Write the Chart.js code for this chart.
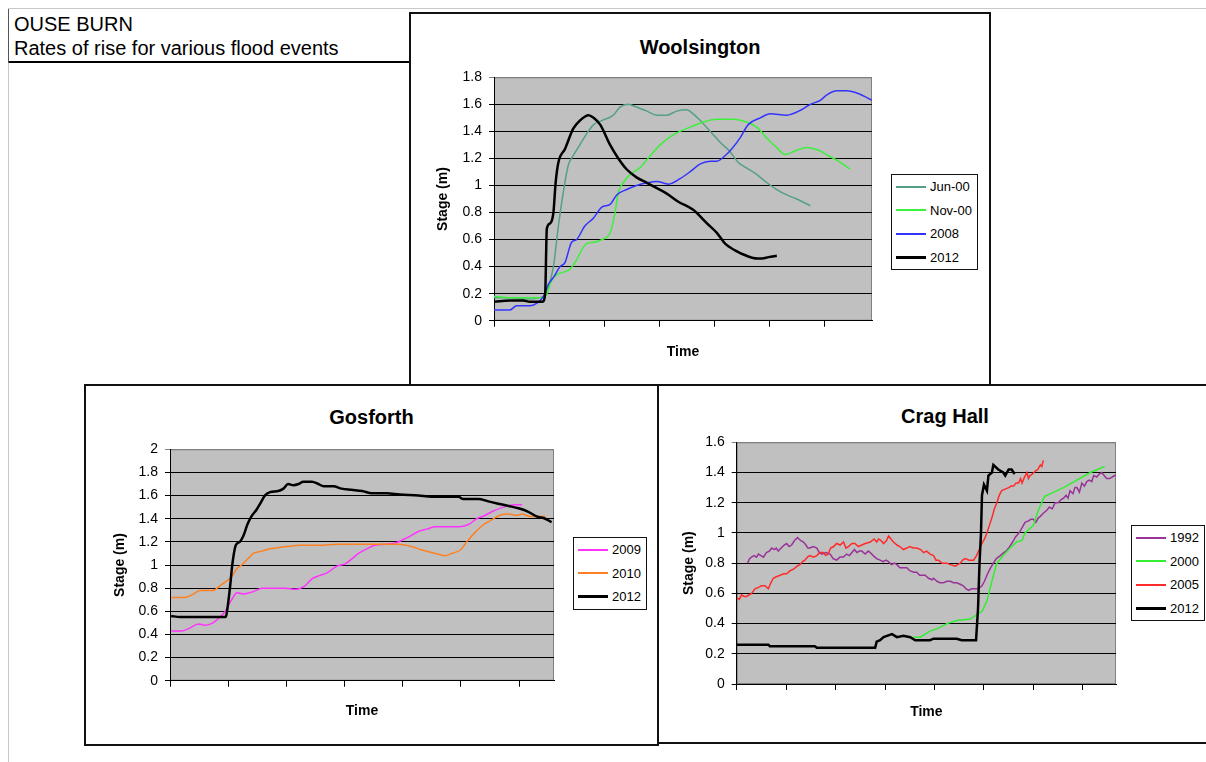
<!DOCTYPE html>
<html>
<head>
<meta charset="utf-8">
<title>Ouse Burn - rates of rise</title>
<script src="https://cdn.jsdelivr.net/npm/chart.js@4.4.1/dist/chart.umd.min.js"></script>
<style>
  html, body { margin: 0; padding: 0; background: #fff; overflow: hidden; }
  body { width: 1206px; height: 762px; position: relative; font-family: "Liberation Sans", Arial, sans-serif; color: #000; }
  .line { position: absolute; }
  .box { position: absolute; box-sizing: border-box; border: 2px solid #111; background: #fff; }
  .chart-title { position: absolute; text-align: center; font-weight: bold; font-size: 20px; line-height: 20px; }
  .legend { position: absolute; border: 1px solid #111; background: #fff; padding: 0 5px 0 4px; font-size: 13px; }
  .lg-row { display: flex; align-items: center; height: 23.5px; white-space: nowrap; }
  .lg-line { display: inline-block; width: 30px; margin-right: 4px; }
  canvas { position: absolute; }
  #heading { position: absolute; left: 14px; top: 12px; font-size: 20px; line-height: 24px; }
</style>
</head>
<body>
<div class="line" style="left:8px;top:8px;width:1198px;height:1px;background:#c8c8c8"></div>
<div class="line" style="left:8px;top:8px;width:1px;height:754px;background:#c8c8c8"></div>
<div class="line" style="left:8px;top:9px;width:1px;height:54px;background:#555"></div>
<div id="heading">OUSE BURN<br>Rates of rise for various flood events</div>
<div class="line" style="left:9px;top:61px;width:401px;height:2px;background:#000"></div>

<div class="box" style="left:409px;top:12px;width:582px;height:374px"></div>
<div class="box" style="left:84px;top:384px;width:575px;height:362px"></div>
<div class="box" style="left:657px;top:384px;width:580px;height:360px"></div>

<div class="chart-title" style="left:410px;top:37px;width:580px">Woolsington</div>
<div class="chart-title" style="left:85px;top:407px;width:573px">Gosforth</div>
<div class="chart-title" style="left:658px;top:406px;width:574px">Crag Hall</div>

<canvas id="woolsington" width="580" height="372" style="left:410px;top:13px"></canvas>
<canvas id="gosforth" width="573" height="360" style="left:85px;top:385px"></canvas>
<canvas id="cragHall" width="574" height="358" style="left:658px;top:385px"></canvas>

<div class="legend" id="woolsingtonLegend" style="left:891px;top:174px"></div>
<div class="legend" id="gosforthLegend" style="left:573px;top:537px"></div>
<div class="legend" id="cragHallLegend" style="left:1131px;top:525px"></div>

<script>
// time is in x-axis tick intervals, stage in metres

// Woolsington
const woolJun00 = [[0,0.17],[0.29,0.17],[0.59,0.16],[0.9,0.18],[0.99,0.25],[1.08,0.4],[1.17,0.7],[1.26,0.95],[1.35,1.15],[1.44,1.22],[1.56,1.3],[1.68,1.38],[1.81,1.45],[1.96,1.48],[2.17,1.52],[2.29,1.58],[2.44,1.6],[2.59,1.58],[2.78,1.55],[2.96,1.52],[3.14,1.52],[3.32,1.55],[3.5,1.56],[3.62,1.53],[3.75,1.48],[3.93,1.4],[4.11,1.32],[4.29,1.25],[4.44,1.17],[4.59,1.13],[4.78,1.08],[4.96,1.02],[5.14,0.97],[5.32,0.93],[5.5,0.9],[5.75,0.85]];
const woolNov00 = [[0,0.18],[0.29,0.17],[0.9,0.17],[0.96,0.2],[1.05,0.3],[1.14,0.34],[1.38,0.38],[1.5,0.45],[1.59,0.52],[1.68,0.57],[1.81,0.58],[1.96,0.6],[2.11,0.65],[2.2,0.8],[2.26,0.95],[2.35,1.02],[2.47,1.08],[2.65,1.13],[2.84,1.22],[3.02,1.3],[3.2,1.36],[3.38,1.4],[3.62,1.44],[3.81,1.47],[4.05,1.49],[4.35,1.49],[4.59,1.47],[4.78,1.43],[4.96,1.35],[5.14,1.28],[5.29,1.23],[5.5,1.26],[5.68,1.28],[5.9,1.26],[6.08,1.22],[6.26,1.18],[6.47,1.12]];
const wool2008 = [[0,0.08],[0.29,0.08],[0.41,0.11],[0.65,0.11],[0.78,0.13],[0.9,0.18],[0.99,0.27],[1.08,0.32],[1.2,0.4],[1.29,0.43],[1.41,0.58],[1.5,0.6],[1.65,0.7],[1.81,0.76],[1.96,0.84],[2.11,0.86],[2.23,0.93],[2.41,0.97],[2.59,1.0],[2.78,1.02],[2.96,1.03],[3.17,1.01],[3.38,1.05],[3.56,1.1],[3.75,1.16],[3.93,1.18],[4.05,1.18],[4.2,1.22],[4.32,1.27],[4.47,1.35],[4.62,1.45],[4.84,1.5],[5.02,1.53],[5.32,1.52],[5.59,1.56],[5.75,1.6],[5.93,1.63],[6.05,1.67],[6.23,1.7],[6.41,1.7],[6.62,1.68],[6.87,1.63]];
const wool2012 = [[0,0.14],[0.29,0.15],[0.53,0.15],[0.65,0.14],[0.88,0.14],[0.93,0.2],[0.96,0.68],[1.02,0.72],[1.08,0.8],[1.12,1.02],[1.17,1.17],[1.29,1.27],[1.44,1.42],[1.56,1.48],[1.72,1.52],[1.81,1.5],[1.93,1.45],[2.11,1.3],[2.26,1.2],[2.41,1.12],[2.59,1.06],[2.78,1.02],[2.96,0.98],[3.14,0.94],[3.35,0.88],[3.62,0.82],[3.87,0.72],[4.05,0.65],[4.2,0.57],[4.38,0.52],[4.59,0.48],[4.78,0.46],[4.87,0.46],[4.99,0.47],[5.14,0.48]];

// Gosforth
const gos2009 = [[0.02,0.43],[0.2,0.43],[0.32,0.45],[0.49,0.49],[0.6,0.48],[0.74,0.5],[0.86,0.55],[0.95,0.6],[1.06,0.7],[1.15,0.76],[1.26,0.75],[1.43,0.77],[1.58,0.8],[1.98,0.8],[2.15,0.79],[2.32,0.82],[2.44,0.88],[2.58,0.91],[2.69,0.93],[2.87,0.99],[3.01,1.01],[3.12,1.05],[3.24,1.1],[3.38,1.14],[3.52,1.17],[3.7,1.18],[3.87,1.19],[4.01,1.22],[4.13,1.25],[4.27,1.29],[4.41,1.31],[4.56,1.33],[4.96,1.33],[5.13,1.35],[5.27,1.4],[5.42,1.43],[5.53,1.46],[5.73,1.5],[5.93,1.52],[6.05,1.52]];
const gos2010 = [[0.02,0.72],[0.26,0.72],[0.37,0.74],[0.52,0.78],[0.74,0.78],[0.86,0.82],[0.97,0.86],[1.06,0.9],[1.15,0.97],[1.23,1.0],[1.35,1.06],[1.43,1.1],[1.58,1.12],[1.72,1.14],[1.86,1.15],[2.01,1.16],[2.23,1.17],[2.55,1.17],[2.89,1.18],[3.58,1.18],[3.93,1.18],[4.15,1.16],[4.33,1.13],[4.56,1.1],[4.73,1.08],[4.84,1.1],[4.99,1.13],[5.1,1.2],[5.24,1.28],[5.39,1.35],[5.53,1.39],[5.67,1.43],[5.82,1.44],[5.96,1.43],[6.05,1.44],[6.19,1.42],[6.45,1.42]];
const gos2012 = [[0.02,0.56],[0.17,0.55],[0.95,0.55],[0.97,0.57],[1.03,0.8],[1.07,1.0],[1.13,1.17],[1.2,1.2],[1.26,1.25],[1.33,1.35],[1.4,1.42],[1.49,1.48],[1.56,1.54],[1.63,1.6],[1.72,1.63],[1.86,1.64],[1.95,1.66],[2.03,1.7],[2.12,1.69],[2.21,1.7],[2.29,1.72],[2.44,1.72],[2.55,1.7],[2.64,1.68],[2.81,1.68],[2.95,1.66],[3.12,1.65],[3.3,1.64],[3.47,1.62],[3.72,1.62],[3.95,1.61],[4.27,1.6],[4.5,1.59],[4.96,1.59],[5.04,1.57],[5.3,1.57],[5.47,1.55],[5.64,1.53],[5.82,1.51],[5.99,1.49],[6.16,1.46],[6.3,1.42],[6.45,1.4],[6.56,1.37]];

// Crag Hall
const crag1992 = [[0.22,0.8],[0.26,0.83],[0.3,0.84],[0.35,0.85],[0.4,0.84],[0.44,0.86],[0.49,0.85],[0.54,0.84],[0.6,0.87],[0.66,0.88],[0.71,0.9],[0.76,0.89],[0.8,0.9],[0.84,0.88],[0.9,0.9],[0.96,0.92],[1.01,0.93],[1.06,0.91],[1.11,0.92],[1.17,0.95],[1.23,0.97],[1.29,0.95],[1.35,0.94],[1.4,0.92],[1.44,0.9],[1.48,0.9],[1.55,0.91],[1.62,0.9],[1.67,0.87],[1.72,0.86],[1.8,0.87],[1.89,0.86],[1.95,0.83],[2.02,0.82],[2.09,0.84],[2.16,0.84],[2.22,0.86],[2.28,0.85],[2.33,0.87],[2.38,0.89],[2.43,0.87],[2.48,0.88],[2.53,0.88],[2.6,0.86],[2.66,0.88],[2.7,0.87],[2.76,0.85],[2.83,0.83],[2.9,0.82],[2.96,0.81],[3.02,0.82],[3.07,0.81],[3.13,0.79],[3.19,0.8],[3.24,0.79],[3.3,0.77],[3.38,0.77],[3.44,0.77],[3.5,0.75],[3.58,0.74],[3.64,0.74],[3.7,0.72],[3.78,0.72],[3.81,0.72],[3.88,0.7],[3.95,0.69],[3.98,0.7],[4.05,0.68],[4.11,0.67],[4.18,0.67],[4.25,0.68],[4.32,0.68],[4.38,0.67],[4.45,0.67],[4.52,0.66],[4.58,0.65],[4.64,0.63],[4.69,0.62],[4.75,0.63],[4.82,0.63],[4.86,0.63],[4.92,0.64],[4.96,0.65],[5.01,0.68],[5.06,0.72],[5.12,0.76],[5.19,0.8],[5.25,0.83],[5.33,0.85],[5.4,0.87],[5.45,0.88],[5.5,0.9],[5.56,0.93],[5.6,0.95],[5.63,0.97],[5.68,0.99],[5.73,1.01],[5.78,1.04],[5.83,1.07],[5.9,1.08],[5.95,1.09],[6.0,1.09],[6.05,1.07],[6.1,1.1],[6.14,1.11],[6.2,1.13],[6.27,1.15],[6.32,1.17],[6.38,1.16],[6.44,1.2],[6.5,1.2],[6.56,1.22],[6.61,1.23],[6.66,1.25],[6.7,1.23],[6.74,1.28],[6.8,1.26],[6.84,1.3],[6.88,1.3],[6.93,1.27],[6.98,1.33],[7.03,1.31],[7.08,1.34],[7.13,1.35],[7.18,1.34],[7.22,1.38],[7.28,1.37],[7.33,1.39],[7.38,1.4],[7.43,1.38],[7.48,1.36],[7.54,1.36],[7.59,1.37],[7.64,1.38],[7.67,1.38]];
const crag2000 = [[3.57,0.31],[3.71,0.31],[3.91,0.35],[4.08,0.37],[4.25,0.4],[4.45,0.42],[4.72,0.43],[4.86,0.46],[4.96,0.48],[5.06,0.55],[5.16,0.68],[5.26,0.8],[5.39,0.85],[5.53,0.9],[5.66,0.94],[5.77,0.95],[5.83,1.0],[6.0,1.05],[6.1,1.15],[6.22,1.24],[6.61,1.3],[7.15,1.4],[7.44,1.44]];
const crag2005 = [[0,0.57],[0.05,0.56],[0.1,0.59],[0.15,0.58],[0.2,0.58],[0.3,0.6],[0.37,0.63],[0.44,0.64],[0.5,0.65],[0.57,0.65],[0.64,0.63],[0.69,0.67],[0.74,0.7],[0.8,0.71],[0.88,0.72],[0.95,0.73],[1.01,0.73],[1.08,0.75],[1.15,0.76],[1.22,0.78],[1.28,0.79],[1.33,0.81],[1.38,0.82],[1.43,0.84],[1.48,0.85],[1.55,0.84],[1.62,0.85],[1.68,0.87],[1.75,0.87],[1.8,0.85],[1.85,0.86],[1.9,0.9],[1.96,0.91],[2.02,0.93],[2.09,0.92],[2.16,0.94],[2.21,0.9],[2.26,0.91],[2.33,0.93],[2.39,0.93],[2.46,0.91],[2.53,0.92],[2.6,0.93],[2.7,0.94],[2.78,0.96],[2.83,0.94],[2.87,0.96],[2.92,0.95],[2.97,0.93],[3.03,0.95],[3.07,0.98],[3.12,0.96],[3.17,0.94],[3.24,0.92],[3.3,0.91],[3.37,0.89],[3.44,0.9],[3.5,0.91],[3.57,0.9],[3.64,0.9],[3.72,0.89],[3.78,0.87],[3.84,0.88],[3.91,0.86],[3.98,0.85],[4.03,0.82],[4.08,0.82],[4.15,0.8],[4.25,0.8],[4.32,0.79],[4.42,0.78],[4.47,0.79],[4.52,0.8],[4.57,0.82],[4.62,0.83],[4.7,0.82],[4.79,0.82],[4.85,0.85],[4.89,0.88],[4.93,0.91],[4.96,0.93],[5.01,0.96],[5.06,1.0],[5.11,1.05],[5.16,1.1],[5.21,1.16],[5.26,1.2],[5.31,1.25],[5.36,1.28],[5.43,1.29],[5.5,1.3],[5.55,1.31],[5.6,1.31],[5.65,1.33],[5.7,1.33],[5.74,1.36],[5.77,1.33],[5.82,1.37],[5.87,1.4],[5.9,1.36],[5.93,1.38],[5.98,1.39],[6.04,1.41],[6.09,1.42],[6.14,1.45],[6.17,1.44],[6.2,1.48]];
const crag2012 = [[0,0.26],[0.64,0.26],[0.67,0.25],[1.58,0.25],[1.62,0.24],[2.8,0.24],[2.83,0.28],[2.9,0.29],[2.97,0.31],[3.14,0.33],[3.24,0.31],[3.37,0.32],[3.51,0.31],[3.61,0.29],[3.91,0.29],[3.98,0.3],[4.45,0.3],[4.55,0.29],[4.84,0.29],[4.88,0.5],[4.91,0.8],[4.94,1.0],[4.96,1.25],[5.0,1.32],[5.06,1.28],[5.09,1.38],[5.16,1.4],[5.19,1.45],[5.29,1.42],[5.39,1.4],[5.43,1.38],[5.5,1.42],[5.56,1.42],[5.62,1.39]];

Chart.defaults.font.family = '"Liberation Sans", Arial, sans-serif';
Chart.defaults.color = '#000';

// grey plot area like the old spreadsheet charts
const plotBackground = {
  id: 'plotBackground',
  beforeDraw(chart) {
    const {ctx, chartArea: a} = chart;
    ctx.save();
    ctx.fillStyle = '#c0c0c0';
    ctx.fillRect(a.left, a.top, a.width, a.height);
    ctx.strokeStyle = '#808080';
    ctx.lineWidth = 1;
    ctx.strokeRect(a.left + 0.5, a.top + 0.5, a.width - 1, a.height - 1);
    ctx.restore();
  }
};

function htmlLegend(chart, el) {
  el.innerHTML = '';
  chart.data.datasets.forEach(ds => {
    const row = document.createElement('div');
    row.className = 'lg-row';
    const swatch = document.createElement('span');
    swatch.className = 'lg-line';
    swatch.style.background = ds.borderColor;
    swatch.style.height = Math.round(ds.borderWidth) + 'px';
    row.appendChild(swatch);
    row.appendChild(document.createTextNode(ds.label));
    el.appendChild(row);
  });
}

function stageChart(id, cfg) {
  const n = cfg.series.length;
  const chart = new Chart(document.getElementById(id), {
    type: 'line',
    data: {
      datasets: cfg.series.map((s, i) => ({
        label: s.label,
        data: s.data,
        borderColor: s.color,
        borderWidth: s.width || 1.5,
        pointRadius: 0,
        fill: false,
        tension: 0,
        cubicInterpolationMode: cfg.smooth ? 'monotone' : 'default',
        order: n - 1 - i
      }))
    },
    options: {
      responsive: false,
      animation: false,
      events: [],
      layout: { padding: cfg.padding },
      scales: {
        x: {
          type: 'linear',
          min: 0,
          max: cfg.xMax,
          ticks: { display: false, stepSize: 1, includeBounds: false },
          grid: { drawOnChartArea: false, drawTicks: true, tickLength: 6, color: '#000' },
          border: { color: '#000', width: 1 },
          title: { display: true, text: 'Time', font: { size: 14, weight: 'bold' }, padding: 0 },
          afterFit: s => { s.height = cfg.xHeight; }
        },
        y: {
          min: 0,
          max: cfg.yMax,
          ticks: {
            stepSize: 0.2,
            padding: 7,
            font: { size: 14 },
            callback: v => String(Number(v.toFixed(1)))
          },
          grid: {
            tickLength: 5,
            color: c => (c.tick && c.tick.value > cfg.yMax - 0.01) ? '#808080' : '#000'
          },
          border: { color: '#000', width: 1 },
          title: { display: true, text: 'Stage (m)', font: { size: 14, weight: 'bold' }, padding: 0 },
          afterFit: s => { s.width = cfg.yWidth; }
        }
      },
      plugins: {
        legend: { display: false },
        tooltip: { enabled: false }
      }
    },
    plugins: [plotBackground]
  });
  htmlLegend(chart, document.getElementById(id + 'Legend'));
  return chart;
}

stageChart('woolsington', {
  series: [
    { label: 'Jun-00', data: woolJun00, color: '#55a085' },
    { label: 'Nov-00', data: woolNov00, color: '#3cf03c' },
    { label: '2008', data: wool2008, color: '#3333ff' },
    { label: '2012', data: wool2012, color: '#000000', width: 2.5 }
  ],
  xMax: 6.87, yMax: 1.8, smooth: true,
  padding: { top: 64.3, right: 118, bottom: 24.6, left: 24.6 },
  yWidth: 59.4, xHeight: 39.7
});

stageChart('gosforth', {
  series: [
    { label: '2009', data: gos2009, color: '#ff33ff' },
    { label: '2010', data: gos2010, color: '#ff8020' },
    { label: '2012', data: gos2012, color: '#000000', width: 2.5 }
  ],
  xMax: 6.6, yMax: 2, smooth: true,
  padding: { top: 64.3, right: 104, bottom: 25.1, left: 26.6 },
  yWidth: 58.4, xHeight: 39.2
});

stageChart('cragHall', {
  series: [
    { label: '1992', data: crag1992, color: '#993399' },
    { label: '2000', data: crag2000, color: '#33ee33' },
    { label: '2005', data: crag2005, color: '#ff2b2b' },
    { label: '2012', data: crag2012, color: '#000000', width: 2.5 }
  ],
  xMax: 7.67, yMax: 1.6, smooth: false,
  padding: { top: 57.3, right: 116, bottom: 22.6, left: 22.6 },
  yWidth: 56.1, xHeight: 36.4
});
</script>
</body>
</html>
